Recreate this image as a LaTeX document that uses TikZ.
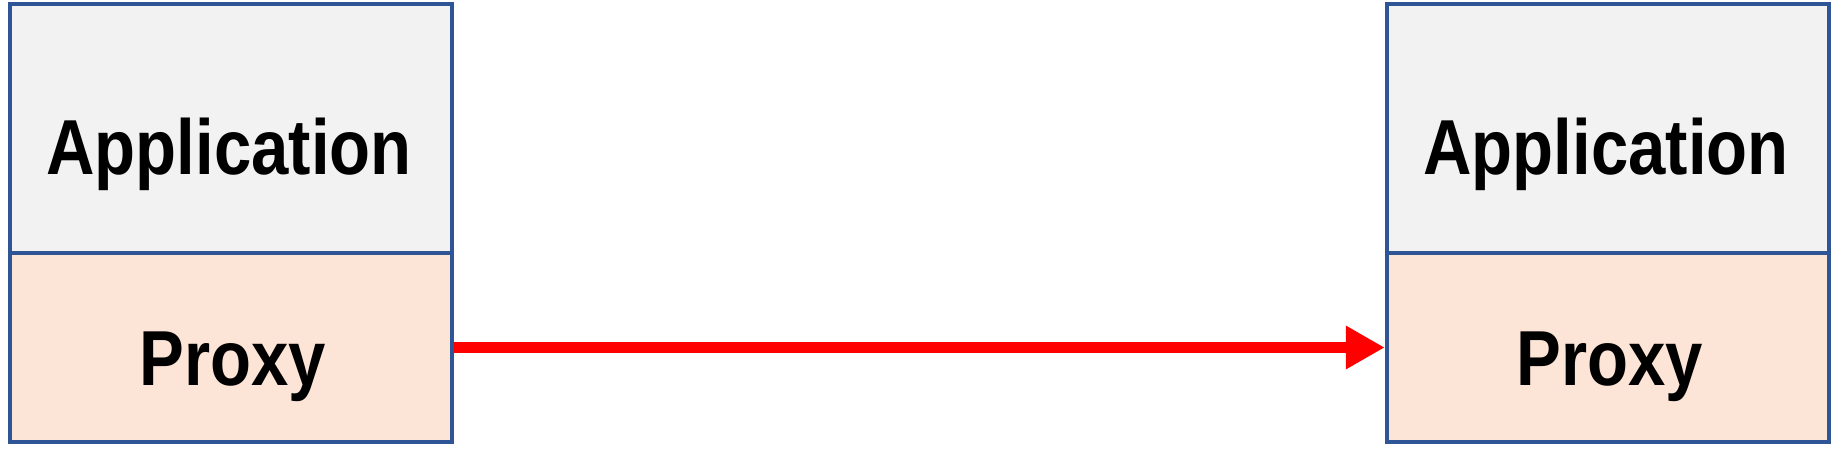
\documentclass[tikz,border=0pt]{standalone}
\usepackage{fontspec}
\setmainfont{Liberation Sans}
\usetikzlibrary{arrows.meta}
\definecolor{appfill}{HTML}{F2F2F2}
\definecolor{proxfill}{HTML}{FCE4D6}
\definecolor{edge}{HTML}{2F5597}
\definecolor{arr}{HTML}{FF0000}
\tikzset{
  box/.style={draw=edge, line width=4.5pt, inner sep=0pt, minimum width=442pt},
  appbox/.style={box, fill=appfill, minimum height=249pt},
  proxbox/.style={box, fill=proxfill, minimum height=189pt},
  lbl/.style={anchor=base, inner sep=0pt, font=\fontsize{78}{94}\selectfont\bfseries, xscale=0.86},
  flow/.style={draw=arr, line width=11pt, -{Triangle[length=39pt, width=41pt, fill=arr]}}
}
\begin{document}
\begin{tikzpicture}[x=1pt,y=-1pt]
\useasboundingbox (0,0) rectangle (1837,449);
\node[appbox] (app1) at (231,128.5) {};
\node[proxbox] (prox1) at (231,347.5) {};
\node[appbox] (app2) at (1608,128.5) {};
\node[proxbox] (prox2) at (1608,347.5) {};
\node[lbl] (t1) at (229,175) {Application};
\node[lbl] (t2) at (233,385) {Proxy};
\node[lbl] (t3) at (1606,175) {Application};
\node[lbl] (t4) at (1610,385) {Proxy};
\draw[flow] (prox1.east) -- (prox2.west);
\end{tikzpicture}
\end{document}
